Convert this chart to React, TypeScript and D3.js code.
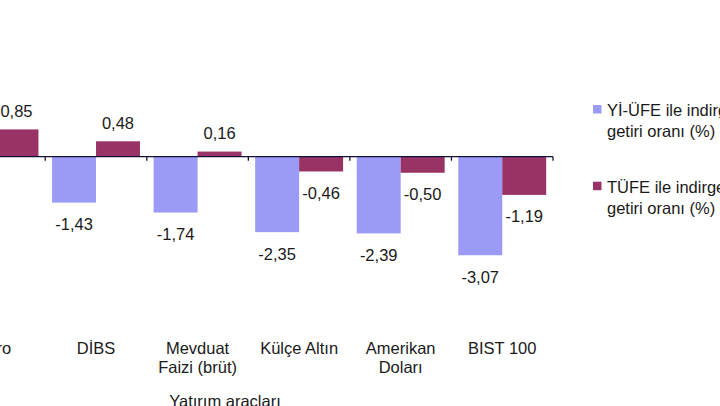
// @ts-nocheck
import { useEffect, useRef } from "react";
import * as d3 from "d3";

const categories = [
  ["Avro"],
  ["DİBS"],
  ["Mevduat", "Faizi (brüt)"],
  ["Külçe Altın"],
  ["Amerikan", "Doları"],
  ["BIST 100"],
];
const yiufe = [-0.62, -1.43, -1.74, -2.35, -2.39, -3.07];
const tufe = [0.85, 0.48, 0.16, -0.46, -0.5, -1.19];
const seriesNames = [
  ["Yİ-ÜFE ile indirgenmiş reel", "getiri oranı (%)"],
  ["TÜFE ile indirgenmiş reel", "getiri oranı (%)"],
];
const colors = ["#9b9bf7", "#993366"];
const axisTitle = "Yatırım araçları";

const fmt = (v) => v.toFixed(2).replace(".", ",");

export default function App() {
  const ref = useRef(null);

  useEffect(() => {
    const W = 720;
    const H = 406;
    const fs = 16.5;
    d3.select(ref.current).selectAll("*").remove();
    const svg = d3
      .select(ref.current)
      .append("svg")
      .attr("width", W)
      .attr("height", H)
      .style("position", "absolute")
      .style("left", "0px")
      .style("top", "0px")
      .style("background", "#fff")
      .style("font-family", "'Liberation Sans', Arial, sans-serif");

    const keys = categories.map((c) => c.join(" "));
    const x = d3.scaleBand().domain(keys).range([-56.3, 553]).padding(0);
    const xs = d3
      .scaleBand()
      .domain(["yi", "tu"])
      .range([0, x.bandwidth()])
      .paddingInner(0)
      .paddingOuter(0.155);
    const y = d3.scaleLinear().domain([-4, 2]).range([285.1, 92.5]);

    const rows = keys.map((k, i) => ({ key: k, vals: [yiufe[i], tufe[i]] }));

    // bars + value labels
    const g = svg.append("g");
    rows.forEach((r) => {
      ["yi", "tu"].forEach((s, j) => {
        const v = r.vals[j];
        const bx = x(r.key) + xs(s);
        g.append("rect")
          .attr("x", bx)
          .attr("width", xs.bandwidth())
          .attr("y", Math.min(y(v), y(0)))
          .attr("height", Math.abs(y(v) - y(0)))
          .attr("fill", colors[j]);
        g.append("text")
          .attr("x", bx + xs.bandwidth() / 2)
          .attr("y", v >= 0 ? y(v) - 12.4 : y(v) + 27.5)
          .attr("text-anchor", "middle")
          .attr("font-size", fs)
          .attr("fill", "#1a1a1a")
          .text(fmt(v));
      });
    });

    // category axis at zero
    const axis = svg.append("g").attr("transform", `translate(0,${y(0)})`);
    axis
      .append("line")
      .attr("x1", -60)
      .attr("x2", 553)
      .attr("stroke", "#111133")
      .attr("stroke-width", 1.3);
    keys.forEach((k) => {
      axis
        .append("line")
        .attr("x1", x(k) + x.bandwidth())
        .attr("x2", x(k) + x.bandwidth())
        .attr("y1", 0)
        .attr("y2", 4)
        .attr("stroke", "#111133")
        .attr("stroke-width", 1.3);
    });

    // category labels
    categories.forEach((lines, i) => {
      const cx = x(keys[i]) + x.bandwidth() / 2;
      lines.forEach((ln, li) => {
        svg
          .append("text")
          .attr("x", cx)
          .attr("y", 353.5 + li * 19.5)
          .attr("text-anchor", "middle")
          .attr("font-size", fs)
          .attr("fill", "#1a1a1a")
          .text(ln);
      });
    });

    svg
      .append("text")
      .attr("x", 225)
      .attr("y", 407)
      .attr("text-anchor", "middle")
      .attr("font-size", fs)
      .attr("fill", "#1a1a1a")
      .text(axisTitle);

    // legend
    seriesNames.forEach((lines, i) => {
      const ly = 105 + i * 76.7;
      svg
        .append("rect")
        .attr("x", 593)
        .attr("y", ly)
        .attr("width", 8.5)
        .attr("height", 8.5)
        .attr("fill", colors[i]);
      lines.forEach((ln, li) => {
        svg
          .append("text")
          .attr("x", 607)
          .attr("y", ly + 11.3 + li * 21)
          .attr("font-size", fs)
          .attr("fill", "#1a1a1a")
          .text(ln);
      });
    });
  }, []);

  return <div ref={ref} />;
}
